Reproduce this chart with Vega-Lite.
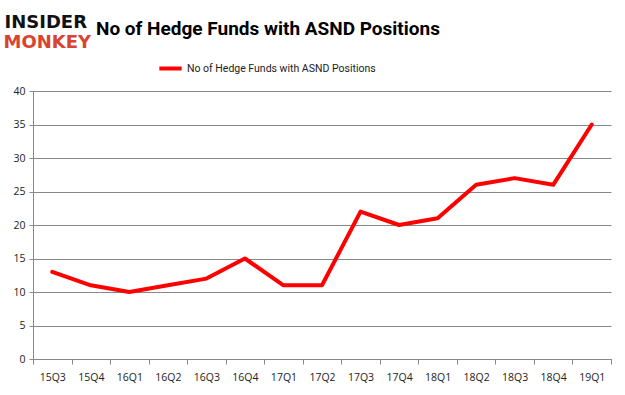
{
  "$schema": "https://vega.github.io/schema/vega-lite/v6.json",
  "autosize": "none",
  "width": 578,
  "height": 268,
  "padding": {"left": 33, "top": 91, "right": 14, "bottom": 36},
  "background": "white",
  "title": {
    "text": "No of Hedge Funds with ASND Positions",
    "font": "Roboto",
    "fontSize": 19,
    "fontWeight": "bold",
    "color": "#000000",
    "anchor": "start",
    "frame": "group",
    "dx": 63,
    "offset": -26
  },
  "data": {
    "values": [
      {"quarter": "15Q3", "funds": 13, "series": "No of Hedge Funds with ASND Positions"},
      {"quarter": "15Q4", "funds": 11, "series": "No of Hedge Funds with ASND Positions"},
      {"quarter": "16Q1", "funds": 10, "series": "No of Hedge Funds with ASND Positions"},
      {"quarter": "16Q2", "funds": 11, "series": "No of Hedge Funds with ASND Positions"},
      {"quarter": "16Q3", "funds": 12, "series": "No of Hedge Funds with ASND Positions"},
      {"quarter": "16Q4", "funds": 15, "series": "No of Hedge Funds with ASND Positions"},
      {"quarter": "17Q1", "funds": 11, "series": "No of Hedge Funds with ASND Positions"},
      {"quarter": "17Q2", "funds": 11, "series": "No of Hedge Funds with ASND Positions"},
      {"quarter": "17Q3", "funds": 22, "series": "No of Hedge Funds with ASND Positions"},
      {"quarter": "17Q4", "funds": 20, "series": "No of Hedge Funds with ASND Positions"},
      {"quarter": "18Q1", "funds": 21, "series": "No of Hedge Funds with ASND Positions"},
      {"quarter": "18Q2", "funds": 26, "series": "No of Hedge Funds with ASND Positions"},
      {"quarter": "18Q3", "funds": 27, "series": "No of Hedge Funds with ASND Positions"},
      {"quarter": "18Q4", "funds": 26, "series": "No of Hedge Funds with ASND Positions"},
      {"quarter": "19Q1", "funds": 35, "series": "No of Hedge Funds with ASND Positions"}
    ]
  },
  "mark": {"type": "line", "interpolate": "linear", "strokeWidth": 4, "strokeCap": "round", "strokeJoin": "round"},
  "encoding": {
    "x": {
      "field": "quarter",
      "type": "ordinal",
      "sort": null,
      "scale": {"type": "band", "paddingInner": 0, "paddingOuter": 0},
      "axis": {
        "title": "MONKEY",
        "titleFont": "DejaVu Sans",
        "titleFontSize": 18,
        "titleFontWeight": "bold",
        "titleColor": "#d9432f",
        "titleAnchor": "start",
        "titleAlign": "left",
        "titleBaseline": "alphabetic",
        "titleX": -30,
        "titleY": -312,
        "labelAngle": 0,
        "labelFont": "Open Sans",
        "labelFontSize": 10.5,
        "labelColor": "#222222",
        "labelPadding": 8,
        "tickBand": "extent",
        "tickSize": 5,
        "tickColor": "#888888",
        "domainColor": "#888888",
        "grid": false
      }
    },
    "y": {
      "field": "funds",
      "type": "quantitative",
      "scale": {"domain": [0, 40]},
      "axis": {
        "title": "INSIDER",
        "titleFont": "DejaVu Sans",
        "titleFontSize": 18,
        "titleFontWeight": "bold",
        "titleColor": "#111111",
        "titleAngle": 0,
        "titleAlign": "left",
        "titleBaseline": "alphabetic",
        "titleX": -29,
        "titleY": -64,
        "values": [0, 5, 10, 15, 20, 25, 30, 35, 40],
        "labelFont": "Open Sans",
        "labelFontSize": 10.5,
        "labelColor": "#222222",
        "labelPadding": 4,
        "tickSize": 4,
        "tickColor": "#888888",
        "domainColor": "#888888",
        "gridColor": "#888888",
        "gridWidth": 1
      }
    },
    "color": {
      "field": "series",
      "type": "nominal",
      "scale": {"range": ["#ff0000"]},
      "legend": {
        "title": null,
        "orient": "none",
        "legendX": 124,
        "legendY": -36,
        "symbolType": "stroke",
        "symbolStrokeWidth": 4,
        "symbolSize": 500,
        "labelFont": "Roboto",
        "labelFontSize": 10.5,
        "labelColor": "#222222",
        "labelOffset": 3,
        "labelLimit": 400
      }
    }
  },
  "config": {
    "view": {"stroke": null}
  }
}
